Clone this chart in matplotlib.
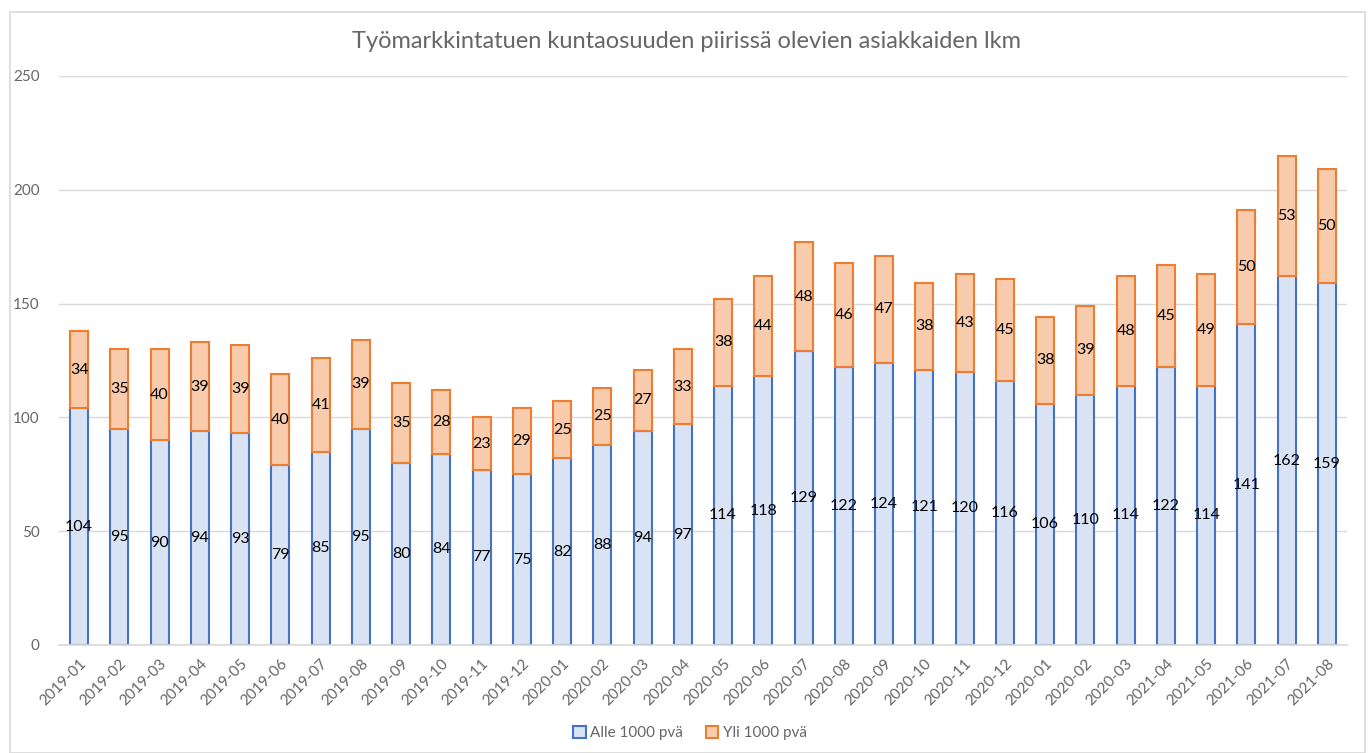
import matplotlib
matplotlib.use("Agg")
import matplotlib.pyplot as plt
from matplotlib.patches import Rectangle, Patch
import numpy as np

categories = ["2019-01", "2019-02", "2019-03", "2019-04", "2019-05", "2019-06", "2019-07", "2019-08",
              "2019-09", "2019-10", "2019-11", "2019-12", "2020-01", "2020-02", "2020-03", "2020-04",
              "2020-05", "2020-06", "2020-07", "2020-08", "2020-09", "2020-10", "2020-11", "2020-12",
              "2020-01", "2020-02", "2020-03", "2021-04", "2021-05", "2021-06", "2021-07", "2021-08"]
alle_1000 = [104, 95, 90, 94, 93, 79, 85, 95, 80, 84, 77, 75, 82, 88, 94, 97,
             114, 118, 129, 122, 124, 121, 120, 116, 106, 110, 114, 122, 114, 141, 162, 159]
yli_1000 = [34, 35, 40, 39, 39, 40, 41, 39, 35, 28, 23, 29, 25, 25, 27, 33,
            38, 44, 48, 46, 47, 38, 43, 45, 38, 39, 48, 45, 49, 50, 53, 50]
series_names = ["Alle 1000 pvä", "Yli 1000 pvä"]
title = "Työmarkkintatuen kuntaosuuden piirissä olevien asiakkaiden lkm"

plt.rcParams['font.family'] = ['Lato', 'DejaVu Sans']

W, H = 1372, 753
fig = plt.figure(figsize=(W / 100, H / 100), dpi=100)
fig.patch.set_facecolor("white")

# outer chart frame
fig.add_artist(Rectangle((10 / W, 0), (1365 - 10) / W, 1 - 12 / H - 0.0,
                         transform=fig.transFigure, fill=False,
                         edgecolor="#D9D9D9", linewidth=1.2))

ax = fig.add_axes([59 / W, 1 - 645 / H, (1347 - 59) / W, (645 - 76) / H])

x = np.arange(len(categories))
blue_fill, blue_edge = "#DAE3F3", "#4472C4"
orange_fill, orange_edge = "#F8CBAD", "#ED7D31"
width = 0.45

b1 = ax.bar(x, alle_1000, width, color=blue_fill, edgecolor=blue_edge, linewidth=1.5, zorder=3)
b2 = ax.bar(x, yli_1000, width, bottom=alle_1000, color=orange_fill, edgecolor=orange_edge,
            linewidth=1.5, zorder=3)

for xi, a, y in zip(x, alle_1000, yli_1000):
    ax.text(xi, a / 2, str(a), ha="center", va="center", fontsize=11.5, color="#000000", zorder=5)
    ax.text(xi, a + y / 2, str(y), ha="center", va="center", fontsize=11.5, color="#000000", zorder=5)

ax.set_xlim(-0.5, len(categories) - 0.5)
ax.set_ylim(0, 250)
ax.set_yticks([0, 50, 100, 150, 200, 250])
ax.yaxis.grid(True, color="#D9D9D9", linewidth=1.0, zorder=0)
ax.set_axisbelow(True)
for s in ["top", "right", "left"]:
    ax.spines[s].set_visible(False)
ax.spines["bottom"].set_color("#D9D9D9")
ax.spines["bottom"].set_linewidth(1.2)
ax.spines["bottom"].set_zorder(4)

ax.set_xticks(x)
ax.set_xticklabels(categories, rotation=45, ha="right", rotation_mode="anchor",
                   fontsize=11, color="#666666")
ax.tick_params(axis="x", length=0, pad=8)
ax.tick_params(axis="y", length=0, pad=14, labelsize=11, labelcolor="#666666")

fig.text(686 / W, 1 - 42 / H, title, ha="center", va="center", fontsize=17, color="#666666")

handles = [Patch(facecolor=blue_fill, edgecolor=blue_edge, linewidth=1.5),
           Patch(facecolor=orange_fill, edgecolor=orange_edge, linewidth=1.5)]
fig.legend(handles, series_names, loc="center", bbox_to_anchor=(690 / W, 1 - 733 / H),
           ncol=2, frameon=False, fontsize=11, labelcolor="#666666",
           handlelength=0.8, handleheight=0.8, handletextpad=0.3, columnspacing=1.5)

fig.savefig("out.png", dpi=100)
